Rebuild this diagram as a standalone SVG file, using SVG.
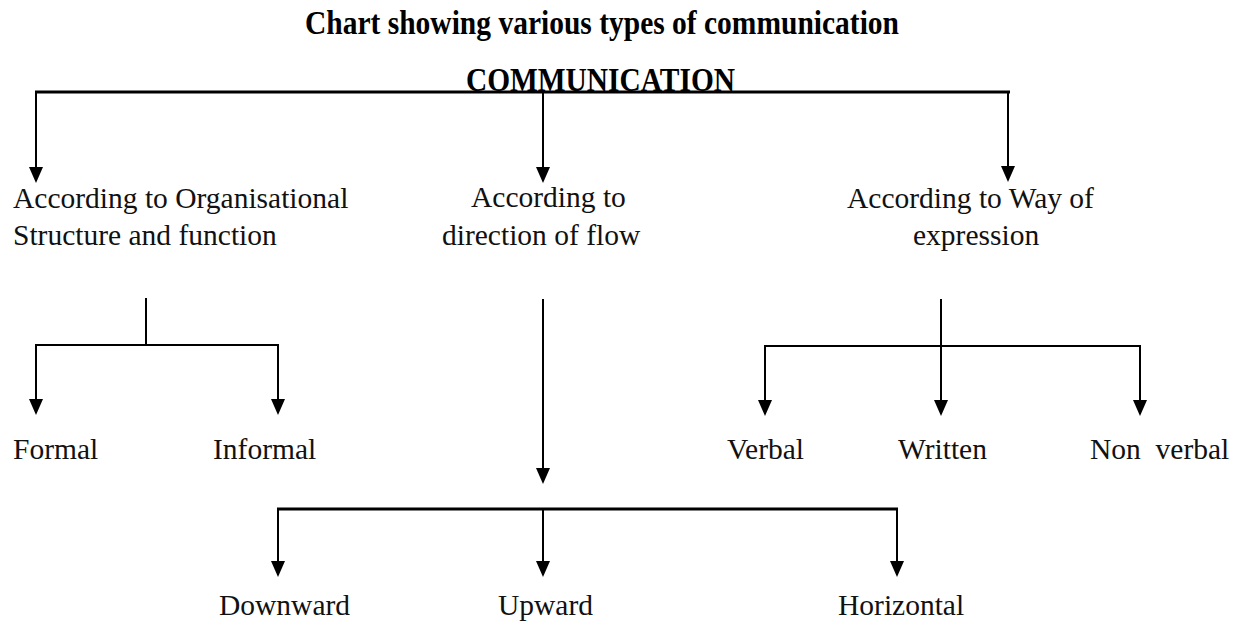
<svg xmlns="http://www.w3.org/2000/svg" width="1249" height="625" viewBox="0 0 1249 625">
  <style>
    .bg { fill: #ffffff; }
    .title { font-family: "Liberation Serif", "Times New Roman", serif; font-weight: bold; font-size: 34px; fill: #000; }
    .label { font-family: "Liberation Serif", "Times New Roman", serif; font-size: 29.5px; fill: #111; white-space: pre; }
    .ln { stroke: #000; stroke-width: 2; fill: none; }
    .thick { stroke-width: 3; }
    .arr { marker-end: url(#head); }
  </style>
  <defs>
    <marker id="head" markerUnits="userSpaceOnUse" markerWidth="16" markerHeight="14" viewBox="0 0 16 14" refX="14" refY="7" orient="auto">
      <path d="M0,0 L16,7 L0,14 z" fill="#000"/>
    </marker>
  </defs>
  <rect class="bg" x="0" y="0" width="1249" height="625"/>

  <text class="title" x="305" y="34" textLength="594" lengthAdjust="spacingAndGlyphs">Chart showing various types of communication</text>

  <g id="connectors">
    <!-- root bar and its three branches -->
    <line class="ln thick" x1="35" y1="92" x2="1010" y2="92"/>
    <line class="ln arr" x1="36" y1="92" x2="36" y2="181"/>
    <line class="ln arr" x1="543" y1="92" x2="543" y2="181"/>
    <line class="ln arr" x1="1008" y1="92" x2="1008" y2="180"/>
    <!-- organisational structure branch -->
    <line class="ln" x1="146" y1="298" x2="146" y2="345"/>
    <line class="ln" x1="35" y1="345" x2="279" y2="345"/>
    <line class="ln arr" x1="36" y1="345" x2="36" y2="413"/>
    <line class="ln arr" x1="278" y1="345" x2="278" y2="413"/>
    <!-- direction of flow branch -->
    <line class="ln arr" x1="543" y1="299" x2="543" y2="482"/>
    <line class="ln thick" x1="277" y1="509" x2="898" y2="509"/>
    <line class="ln arr" x1="278" y1="509" x2="278" y2="575"/>
    <line class="ln arr" x1="543" y1="509" x2="543" y2="575"/>
    <line class="ln arr" x1="897" y1="509" x2="897" y2="575"/>
    <!-- way of expression branch -->
    <line class="ln" x1="941" y1="299" x2="941" y2="346"/>
    <line class="ln" x1="764" y1="346" x2="1141" y2="346"/>
    <line class="ln arr" x1="765" y1="346" x2="765" y2="414"/>
    <line class="ln arr" x1="941" y1="346" x2="941" y2="414"/>
    <line class="ln arr" x1="1140" y1="346" x2="1140" y2="414"/>
  </g>

  <g id="communication">
    <text class="title" x="466" y="91" textLength="269" lengthAdjust="spacingAndGlyphs">COMMUNICATION</text>
  </g>
  <g id="organisational">
    <text class="label" x="13" y="208">According to Organisational</text>
    <text class="label" x="13" y="245">Structure and function</text>
  </g>
  <g id="direction">
    <text class="label" x="471" y="207">According to</text>
    <text class="label" x="442" y="245">direction of flow</text>
  </g>
  <g id="expression">
    <text class="label" x="847" y="208">According to Way of</text>
    <text class="label" x="913" y="245">expression</text>
  </g>
  <g id="formal"><text class="label" x="13" y="459">Formal</text></g>
  <g id="informal"><text class="label" x="213" y="459">Informal</text></g>
  <g id="verbal"><text class="label" x="727" y="459">Verbal</text></g>
  <g id="written"><text class="label" x="898" y="459">Written</text></g>
  <g id="nonverbal"><text class="label" x="1090" y="459">Non  verbal</text></g>
  <g id="downward"><text class="label" x="219" y="615">Downward</text></g>
  <g id="upward"><text class="label" x="498" y="615">Upward</text></g>
  <g id="horizontal"><text class="label" x="838" y="615">Horizontal</text></g>
</svg>
